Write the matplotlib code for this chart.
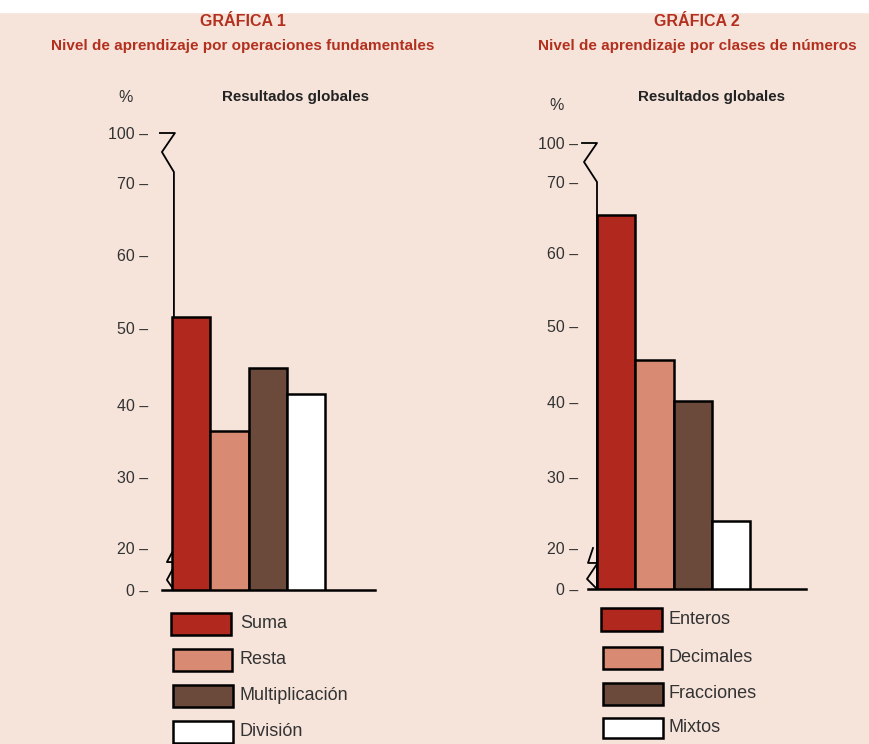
import numpy as np
import matplotlib
matplotlib.use("Agg")
import matplotlib.pyplot as plt
from matplotlib.patches import Rectangle

W, H = 869, 744
BG = "#F6E4DB"
RED_TXT = "#B3301F"
TXT = "#333333"
SANS = ["Liberation Sans", "DejaVu Sans"]

# chart 1
ops = ["Suma", "Resta", "Multiplicación", "División"]
ops_vals = [51.5, 36.4, 44.8, 41.4]
# chart 2
nums = ["Enteros", "Decimales", "Fracciones", "Mixtos"]
nums_vals = [65.4, 45.5, 40.1, 23.8]

colors = ["#B0281E", "#D88B72", "#6B4A3C", "#FFFFFF"]
ticks = [0, 20, 30, 40, 50, 60, 70, 100]
# pixel rows of the ticks on the broken axes
tick_px1 = [590, 548, 477, 405, 328, 255, 183, 133]
tick_px2 = [589, 548, 477, 402, 326, 253, 182, 143]

fig = plt.figure(figsize=(W / 100, H / 100), dpi=100, facecolor=BG)
fig.patches.append(Rectangle((0, 1 - 12 / H), 1, 12 / H, transform=fig.transFigure,
                             color="white", zorder=0))


def fx(x):
    return x / W


def fy(y):
    return 1 - y / H


def make_chart(x0, x1, px, bar_x, bar_w, vals, pad, ax_dx, brk_top, brk_bot):
    y_top, y_bot = px[-1], px[0]
    ax = fig.add_axes([fx(x0), fy(y_bot), (x1 - x0) / W, (y_bot - y_top) / H])
    ax.set_facecolor("none")
    pos = [y_bot - p for p in px]
    ax.set_yscale("function", functions=(lambda v: np.interp(v, ticks, pos),
                                         lambda p: np.interp(p, pos, ticks)))
    ax.set_ylim(0, 100)
    ax.set_xlim((x0 - bar_x) / bar_w, (x1 - bar_x) / bar_w)
    for s in ["top", "right", "left"]:
        ax.spines[s].set_visible(False)
    ax.spines["bottom"].set_linewidth(1.8)
    ax.set_xticks([])
    ax.set_yticks(ticks)
    ax.set_yticklabels([f"{t} –" for t in ticks], family=SANS, fontsize=11.5, color=TXT)
    ax.tick_params(axis="y", length=0, pad=pad)

    ax.bar(np.arange(len(vals)), vals, width=1, align="edge", color=colors,
           edgecolor="black", linewidth=1.8, zorder=3)

    # axis line with break marks
    u = 1 / bar_w
    ax.plot([ax_dx + d * u for d, _ in brk_top], [v for _, v in brk_top],
            color="black", lw=1.3, clip_on=False, zorder=2)
    for seg in brk_bot:
        ax.plot([ax_dx + d * u for d, _ in seg], [v for _, v in seg],
                color="black", lw=1.3, clip_on=False, zorder=2)
    return ax


make_chart(162, 375, tick_px1, 172, 38.3, ops_vals, 10, 0.05,
           [(-14, 100), (1, 100), (-12, 88.6), (0, 76.6), (0, 0)],
           [[(0, 19.5), (-7, 13.3), (0, 13.3)], [(0, 11), (-7, 4.8), (0, 0)]])
make_chart(588, 806, tick_px2, 597, 38.3, nums_vals, 7, 0.0,
           [(-15, 100), (0, 100), (-13, 85.4), (0, 70), (0, 0)],
           [[(-4, 20), (-9, 12.7), (0, 12.7)], [(0, 12.2), (-10, 4.9), (0, 0)]])

# titles
for cx, t1, t2 in [(243, "GRÁFICA 1", "Nivel de aprendizaje por operaciones fundamentales"),
                   (697, "GRÁFICA 2", "Nivel de aprendizaje por clases de números")]:
    fig.text(fx(cx), fy(22), t1, ha="center", va="center", family=SANS,
             fontsize=11.5, fontweight="bold", color=RED_TXT)
    fig.text(fx(cx), fy(46), t2, ha="center", va="center", family=SANS,
             fontsize=11, fontweight="bold", color=RED_TXT)

fig.text(fx(126), fy(98), "%", ha="center", va="center", family=SANS, fontsize=11.5, color=TXT)
fig.text(fx(557), fy(105), "%", ha="center", va="center", family=SANS, fontsize=11.5, color=TXT)
fig.text(fx(295), fy(97), "Resultados globales", ha="center", va="center", family=SANS,
         fontsize=10.9, fontweight="bold", color="#222222")
fig.text(fx(711), fy(97), "Resultados globales", ha="center", va="center", family=SANS,
         fontsize=10.9, fontweight="bold", color="#222222")

# legends
leg1 = [(171, 613, 231, 635), (173, 649, 232, 671), (173, 685, 233, 707), (173, 721, 233, 743)]
leg2 = [(601, 608, 662, 631), (603, 647, 662, 669), (603, 683, 663, 705), (603, 718, 663, 738)]
for boxes, names, tx in [(leg1, ops, 240), (leg2, nums, 669)]:
    for (a, b, c, d), name, col in zip(boxes, names, colors):
        fig.patches.append(Rectangle((fx(a), fy(d)), (c - a) / W, (d - b) / H,
                                     transform=fig.transFigure, facecolor=col,
                                     edgecolor="black", linewidth=1.8, zorder=3))
        fig.text(fx(tx), fy((b + d) / 2), name, ha="left", va="center", family=SANS,
                 fontsize=13, color=TXT)

fig.savefig("out.png", dpi=100, facecolor=BG)
